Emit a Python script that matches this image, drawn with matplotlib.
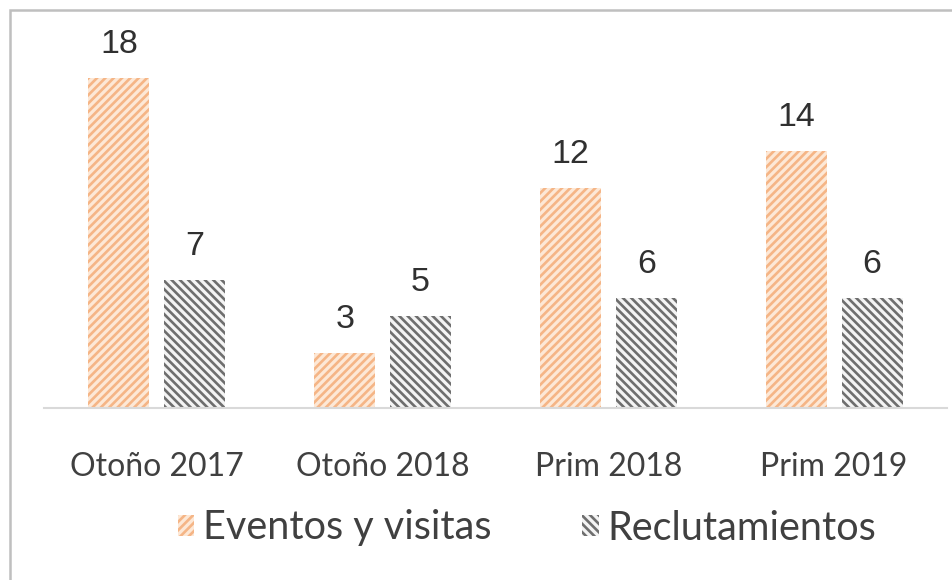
import numpy as np
import matplotlib.pyplot as plt
from matplotlib.patches import Rectangle

# Chart data
categories = ['Otoño 2017', 'Otoño 2018', 'Prim 2018', 'Prim 2019']
eventos = [18, 3, 12, 14]
reclutamientos = [7, 5, 6, 6]
series_names = ['Eventos y visitas', 'Reclutamientos']


def main():
    plt.rcParams['hatch.linewidth'] = 1.9
    fig = plt.figure(figsize=(9.52, 5.8), dpi=100)
    ax = fig.add_axes([44 / 952, 172 / 580, 903 / 952, 366.6 / 580])

    x = np.arange(len(categories))
    w = 0.27
    off = 0.168

    b1 = ax.bar(x - off, eventos, w, facecolor='#fde8d6', edgecolor='#f5b586',
                hatch='////', linewidth=0, label=series_names[0])
    b2 = ax.bar(x + off, reclutamientos, w, facecolor='#f4f4f4', edgecolor='#6e6e6e',
                hatch='\\\\\\\\', linewidth=0, label=series_names[1])

    # value labels
    for bars, vals in [(b1, eventos), (b2, reclutamientos)]:
        for r, v in zip(bars, vals):
            ax.annotate(str(v), (r.get_x() + r.get_width() / 2, v),
                        xytext=(0, 13), textcoords='offset points',
                        ha='center', va='bottom', fontsize=24.5,
                        color='#303030', family='Liberation Sans')

    ax.set_xlim(-0.5, len(categories) - 0.5)
    ax.set_ylim(0, 20)
    ax.set_yticks([])
    ax.set_xticks(x)
    ax.set_xticklabels(categories, fontsize=23, color='#404040', family='Lato')
    ax.tick_params(axis='x', length=0, pad=32)
    for s in ['top', 'left', 'right']:
        ax.spines[s].set_visible(False)
    ax.spines['bottom'].set_color('#d9d9d9')
    ax.spines['bottom'].set_linewidth(1.5)

    leg = fig.legend(loc='center', bbox_to_anchor=(527 / 952, 1 - 528 / 580),
                     ncol=2, frameon=False, handlelength=0.42,
                     handleheight=0.42, handletextpad=0.22, columnspacing=2.3,
                     prop={'family': 'Lato', 'size': 28.5})
    for t in leg.get_texts():
        t.set_color('#404040')

    # outer frame
    fig.patches.append(Rectangle((10 / 952, -0.05), 1.0, 1 - 10 / 580 + 0.05,
                                 transform=fig.transFigure, fill=False,
                                 edgecolor='#bfbfbf', linewidth=1.8))

    plt.savefig('out.png', dpi=100)


if __name__ == "__main__":
    main()
